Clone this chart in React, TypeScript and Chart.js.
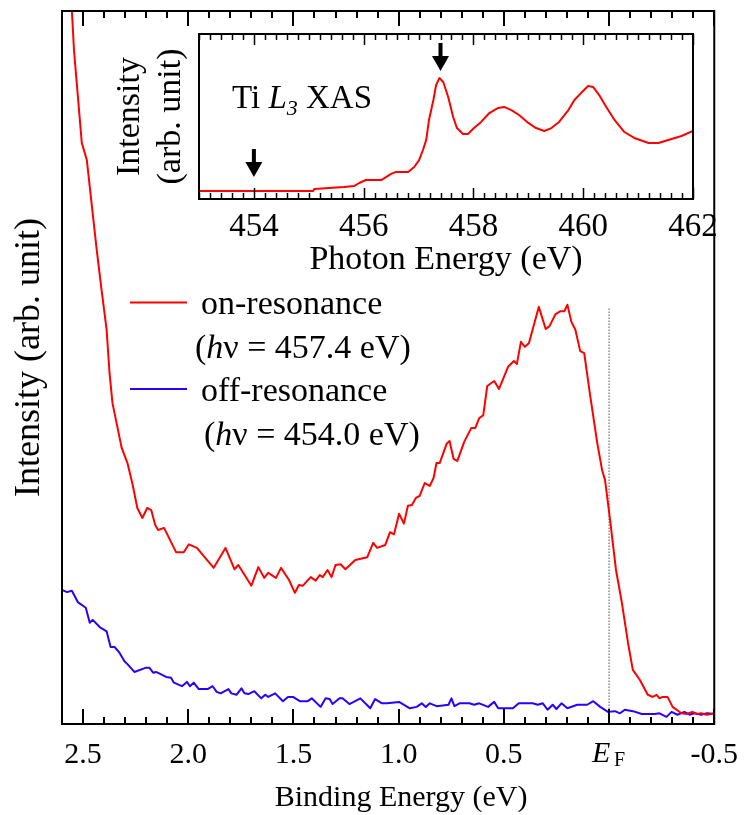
import React, { useEffect, useRef } from 'react';
import { Chart, registerables } from 'chart.js';
Chart.register(...registerables);

const FONT = '"Liberation Serif", "Times New Roman", Times, serif';

// ---- Main panel: photoemission spectra vs binding energy (eV) ----
const onResBE = [2.600, 2.553, 2.543, 2.506, 2.482, 2.435, 2.412, 2.388, 2.374, 2.360,
  2.317, 2.289, 2.266, 2.242, 2.218, 2.195, 2.176, 2.157, 2.143, 2.115,
  2.058, 2.021, 1.997, 1.959, 1.879, 1.823, 1.780, 1.762, 1.700, 1.667,
  1.639, 1.620, 1.583, 1.559, 1.521, 1.493, 1.474, 1.455, 1.418, 1.394,
  1.375, 1.361, 1.338, 1.319, 1.300, 1.276, 1.253, 1.206, 1.149, 1.121,
  1.102, 1.064, 1.041, 1.022, 0.998, 0.975, 0.956, 0.937, 0.918, 0.900,
  0.876, 0.852, 0.834, 0.820, 0.805, 0.772, 0.758, 0.739, 0.721, 0.688,
  0.655, 0.636, 0.617, 0.598, 0.579, 0.546, 0.523, 0.480, 0.452, 0.438,
  0.419, 0.400, 0.381, 0.334, 0.301, 0.283, 0.254, 0.231, 0.212, 0.198,
  0.179, 0.160, 0.137, 0.118, 0.089, 0.056, 0.033, 0.019, -0.005, -0.033,
  -0.061, -0.090, -0.113, -0.146, -0.184, -0.207, -0.226, -0.240, -0.254, -0.278,
  -0.302, -0.344, -0.368, -0.396, -0.419, -0.438, -0.462, -0.485, -0.499];
const onResI = [123, 100, 94.5, 81.5, 79.1, 66.5, 60.9, 55.3, 49.2, 45.0,
  38.8, 36.6, 33.8, 30.3, 28.9, 30.3, 30.0, 27.9, 27.2, 27.5,
  24.1, 24.1, 25.2, 24.7, 21.9, 24.7, 21.7, 22.3, 19.4, 22.0,
  20.5, 21.2, 20.5, 21.9, 20.2, 18.4, 19.5, 19.4, 20.6, 20.1,
  20.9, 20.6, 21.6, 20.6, 22.3, 22.4, 21.7, 23.0, 23.4, 25.4,
  24.7, 25.1, 26.9, 26.6, 29.5, 28.1, 30.6, 30.7, 31.7, 32.0,
  33.8, 33.4, 34.5, 36.6, 36.6, 39.3, 39.7, 37.2, 36.9, 39.6,
  41.5, 41.5, 42.9, 43.3, 47.4, 48.1, 47.0, 50.1, 50.9, 50.5,
  53.6, 52.9, 53.4, 58.5, 55.4, 55.8, 57.5, 57.9, 57.9, 58.8,
  56.4, 55.3, 52.3, 52.0, 45.9, 39.4, 35.6, 34.2, 28.6, 21.6,
  17.0, 11.4, 7.6, 6.2, 4.1, 3.8, 4.1, 3.6, 3.8, 3.8,
  2.4, 1.5, 1.4, 1.7, 1.4, 1.5, 1.3, 1.4, 1.5];

const offResBE = [2.600, 2.576, 2.553, 2.525, 2.487, 2.468, 2.454, 2.421, 2.388, 2.369,
  2.350, 2.327, 2.303, 2.289, 2.256, 2.200, 2.185, 2.167, 2.153, 2.105,
  2.082, 2.068, 2.030, 2.006, 1.992, 1.974, 1.950, 1.908, 1.884, 1.865,
  1.846, 1.809, 1.795, 1.771, 1.747, 1.733, 1.714, 1.686, 1.653, 1.634,
  1.620, 1.587, 1.550, 1.526, 1.502, 1.470, 1.432, 1.413, 1.371, 1.347,
  1.328, 1.314, 1.281, 1.267, 1.234, 1.182, 1.135, 1.112, 1.079, 1.055,
  0.998, 0.947, 0.914, 0.890, 0.871, 0.852, 0.819, 0.763, 0.749, 0.735,
  0.711, 0.664, 0.641, 0.617, 0.575, 0.546, 0.527, 0.457, 0.429, 0.363,
  0.339, 0.315, 0.292, 0.268, 0.250, 0.226, 0.198, 0.151, 0.104, 0.075,
  0.042, 0.005, -0.028, -0.052, -0.075, -0.113, -0.156, -0.217, -0.240, -0.273,
  -0.297, -0.325, -0.358, -0.382, -0.405, -0.438, -0.466, -0.499];
const offResI = [18.8, 18.5, 18.7, 17.1, 16.3, 14.2, 14.6, 13.6, 13.0, 10.8,
  10.8, 10.0, 8.8, 8.4, 7.3, 7.9, 7.9, 7.2, 7.3, 6.6,
  6.5, 5.8, 5.3, 5.9, 5.3, 5.8, 4.9, 4.9, 5.3, 4.5,
  4.3, 4.9, 4.3, 4.1, 5.0, 4.3, 4.2, 4.6, 3.6, 4.1,
  3.8, 4.3, 3.2, 3.8, 3.8, 3.2, 3.2, 3.6, 2.4, 3.6,
  3.5, 2.8, 3.6, 3.6, 2.8, 3.6, 2.2, 3.5, 2.9, 2.9,
  3.1, 2.2, 2.4, 2.9, 2.4, 2.9, 2.5, 2.7, 3.6, 2.5,
  2.9, 2.9, 2.7, 2.9, 2.4, 3.1, 2.2, 2.2, 2.9, 2.9,
  2.7, 2.9, 2.0, 2.7, 2.1, 2.9, 2.2, 2.7, 2.7, 3.2,
  2.4, 1.7, 1.8, 1.5, 2.0, 1.8, 1.4, 1.4, 1.5, 1.0,
  1.7, 1.3, 1.7, 1.3, 1.5, 1.3, 1.5, 1.4];

// Fermi level marker (dotted vertical line)
const fermiBE = [0, 0];
const fermiI = [0, 58.3];

const mainXMin = -0.5;
const mainXMax = 2.6;
const mainXStep = 0.5;
const mainMinorStep = 0.1;

// ---- Inset: Ti L3 XAS ----
const xasE = [453.0, 455.08, 455.10, 455.64, 455.83, 455.92, 456.04, 456.32, 456.50, 456.59,
  456.81, 456.92, 457.01, 457.08, 457.14, 457.19, 457.27, 457.32, 457.38, 457.45,
  457.54, 457.63, 457.70, 457.81, 457.90, 458.01, 458.14, 458.29, 458.45, 458.56,
  458.69, 458.83, 459.00, 459.14, 459.29, 459.42, 459.56, 459.73, 459.84, 459.96,
  460.09, 460.18, 460.29, 460.42, 460.57, 460.75, 460.93, 461.19, 461.37, 461.55,
  461.79, 462.0];
const xasI = [4.8, 4.8, 6.1, 7.3, 7.9, 9.7, 11.5, 11.5, 15.2, 16.4,
  16.4, 19.4, 23.6, 29.7, 35.8, 47.9, 60.0, 69.1, 73.3, 70.9,
  61.8, 49.7, 43.0, 39.4, 39.4, 43.0, 46.7, 52.1, 55.2, 55.8,
  53.9, 50.9, 46.1, 43.0, 41.2, 43.0, 46.7, 53.9, 60.0, 64.2,
  68.5, 67.9, 63.0, 55.8, 47.9, 40.6, 37.0, 33.9, 33.9, 35.8,
  38.2, 41.2];
const arrowE = [454.0, 457.4];
const arrowTipI = [13.3, 77.6];
const insetXMin = 453;
const insetXMax = 462;
const insetXStep = 2;
const insetMinorStep = 0.2;

const toXY = (xs: number[], ys: number[]) => xs.map((x, i) => ({ x, y: ys[i] }));

function drawRuns(ctx: CanvasRenderingContext2D, x: number, y: number, runs: [string, string, number?][]) {
  let cx = x;
  for (const [text, font, dy] of runs) {
    ctx.font = font;
    ctx.fillText(text, cx, y + (dy || 0));
    cx += ctx.measureText(text).width;
  }
}

const mainDecor = {
  id: 'mainDecor',
  afterDraw(chart: any) {
    const { ctx, chartArea: a, scales } = chart;
    const xs = scales.x;
    ctx.save();
    ctx.strokeStyle = '#000';
    ctx.fillStyle = '#000';
    // ticks (inward, bottom and top)
    ctx.lineWidth = 2;
    const nMinor = Math.round((mainXMax - mainXMin) / mainMinorStep);
    for (let k = 0; k <= nMinor; k++) {
      const v = mainXMin + k * mainMinorStep;
      const major = Math.abs(v / mainXStep - Math.round(v / mainXStep)) < 1e-6;
      const px = Math.round(xs.getPixelForValue(v)) ;
      const len = major ? 15 : 7;
      ctx.beginPath();
      ctx.moveTo(px, a.bottom);
      ctx.lineTo(px, a.bottom - len);
      ctx.moveTo(px, a.top);
      ctx.lineTo(px, a.top + len);
      ctx.stroke();
    }
    // frame
    ctx.lineWidth = 2;
    ctx.strokeRect(a.left, a.top, a.right - a.left, a.bottom - a.top);

    // E_F tick label
    const ef = xs.getPixelForValue(0);
    ctx.textAlign = 'left';
    ctx.textBaseline = 'alphabetic';
    ctx.font = `italic 30px ${FONT}`;
    ctx.fillText('E', ef - 17, 762);
    ctx.font = `20px ${FONT}`;
    ctx.fillText('F', ef + 5, 766);

    // axis titles
    ctx.textAlign = 'center';
    ctx.font = `30px ${FONT}`;
    ctx.fillText('Binding Energy (eV)', (a.left + a.right) / 2 + 13, 806);
    ctx.save();
    ctx.translate(30, (a.top + a.bottom) / 2 - 10);
    ctx.rotate(-Math.PI / 2);
    ctx.textBaseline = 'middle';
    ctx.font = `36px ${FONT}`;
    ctx.fillText('Intensity (arb. unit)', 0, 0);
    ctx.restore();

    // legend
    ctx.lineWidth = 2;
    ctx.strokeStyle = '#ff0000';
    ctx.beginPath(); ctx.moveTo(130, 302.5); ctx.lineTo(187, 302.5); ctx.stroke();
    ctx.strokeStyle = '#2a00ff';
    ctx.beginPath(); ctx.moveTo(130, 389); ctx.lineTo(187, 389); ctx.stroke();
    ctx.textAlign = 'left';
    ctx.textBaseline = 'alphabetic';
    const f = `34px ${FONT}`;
    const fi = `italic 34px ${FONT}`;
    drawRuns(ctx, 201, 314, [['on-resonance', f]]);
    drawRuns(ctx, 195, 358, [['(', f], ['h', fi], ['\u03bd = 457.4 eV)', f]]);
    drawRuns(ctx, 201, 401, [['off-resonance', f]]);
    drawRuns(ctx, 204, 445, [['(', f], ['h', fi], ['\u03bd = 454.0 eV)', f]]);
    ctx.restore();
  },
};

const insetDecor = {
  id: 'insetDecor',
  afterDraw(chart: any) {
    const { ctx, chartArea: a, scales } = chart;
    const xs = scales.x;
    const ys = scales.y;
    ctx.save();
    ctx.strokeStyle = '#000';
    ctx.fillStyle = '#000';
    ctx.lineWidth = 1.5;
    const nMinor = Math.round((insetXMax - insetXMin) / insetMinorStep);
    for (let k = 0; k <= nMinor; k++) {
      const v = insetXMin + k * insetMinorStep;
      const major = Math.abs(v / insetXStep - Math.round(v / insetXStep)) < 1e-6;
      const px = Math.round(xs.getPixelForValue(v)) + 0.5;
      const len = major ? 11 : 6;
      ctx.beginPath();
      ctx.moveTo(px, a.bottom);
      ctx.lineTo(px, a.bottom - len);
      ctx.moveTo(px, a.top);
      ctx.lineTo(px, a.top + len);
      ctx.stroke();
    }
    ctx.lineWidth = 2;
    ctx.strokeRect(a.left, a.top, a.right - a.left, a.bottom - a.top);

    // arrows
    for (let i = 0; i < arrowE.length; i++) {
      const x = xs.getPixelForValue(arrowE[i]);
      const tip = ys.getPixelForValue(arrowTipI[i]);
      ctx.fillRect(x - 2, tip - 28, 4, 14);
      ctx.beginPath();
      ctx.moveTo(x - 8.5, tip - 15);
      ctx.lineTo(x + 8.5, tip - 15);
      ctx.lineTo(x, tip);
      ctx.closePath();
      ctx.fill();
    }

    // label
    ctx.textAlign = 'left';
    ctx.textBaseline = 'alphabetic';
    drawRuns(ctx, 232, 108, [
      ['Ti ', `33px ${FONT}`],
      ['L', `italic 33px ${FONT}`],
      ['3', `italic 22px ${FONT}`, 7],
      [' XAS', `33px ${FONT}`],
    ]);
    ctx.restore();
  },
};

export default function App() {
  const mainRef = useRef<HTMLCanvasElement>(null);
  const insetRef = useRef<HTMLCanvasElement>(null);

  useEffect(() => {
    const main = new Chart(mainRef.current as HTMLCanvasElement, {
      type: 'line',
      data: {
        datasets: [
          { data: toXY(onResBE, onResI), borderColor: '#ff0000', borderWidth: 2, pointRadius: 0, tension: 0, fill: false, borderJoinStyle: 'round' },
          { data: toXY(offResBE, offResI), borderColor: '#2a00ff', borderWidth: 2, pointRadius: 0, tension: 0, fill: false, borderJoinStyle: 'round' },
          { data: toXY(fermiBE, fermiI), borderColor: '#555', borderWidth: 1, borderDash: [1.5, 1.5], pointRadius: 0, fill: false },
        ],
      } as any,
      options: {
        responsive: false,
        animation: false,
        devicePixelRatio: 1,
        layout: { padding: { left: 0, top: 11, right: 31, bottom: 0 } },
        plugins: { legend: { display: false }, tooltip: { enabled: false } },
        scales: {
          x: {
            type: 'linear', min: mainXMin, max: mainXMax, reverse: true,
            grid: { display: false, drawTicks: false }, border: { display: false },
            ticks: {
              stepSize: mainXStep, includeBounds: false, padding: 13, color: '#000', maxRotation: 0, autoSkip: false,
              font: { family: FONT, size: 30 },
              callback: (v: any) => (Math.abs(Number(v)) < 1e-9 ? '' : Number(v).toFixed(1)),
            },
            afterFit: (s: any) => { s.height = 91; },
          },
          y: {
            type: 'linear', min: 0, max: 100,
            grid: { display: false, drawTicks: false }, border: { display: false },
            ticks: { display: false },
            afterFit: (s: any) => { s.width = 62; },
          },
        },
      } as any,
      plugins: [mainDecor],
    });

    const inset = new Chart(insetRef.current as HTMLCanvasElement, {
      type: 'line',
      data: {
        datasets: [
          { data: toXY(xasE, xasI), borderColor: '#ff0000', borderWidth: 2, pointRadius: 0, tension: 0, fill: false, borderJoinStyle: 'round' },
        ],
      } as any,
      options: {
        responsive: false,
        animation: false,
        devicePixelRatio: 1,
        layout: { padding: { left: 0, top: 34, right: 58, bottom: 525 } },
        plugins: { legend: { display: false }, tooltip: { enabled: false } },
        scales: {
          x: {
            type: 'linear', min: insetXMin, max: insetXMax,
            grid: { display: false, drawTicks: false }, border: { display: false },
            ticks: { stepSize: insetXStep, includeBounds: false, padding: 9, color: '#000', maxRotation: 0, autoSkip: false, font: { family: FONT, size: 33 } },
            title: { display: true, text: 'Photon Energy (eV)', color: '#000', font: { family: FONT, size: 34 }, padding: { top: 0, bottom: 9.6 } },
            afterFit: (s: any) => { s.height = 91; },
          },
          y: {
            type: 'linear', min: 0, max: 100,
            grid: { display: false, drawTicks: false }, border: { display: false },
            ticks: { display: false },
            title: { display: true, text: ['Intensity', '(arb. unit)'], color: '#000', font: { family: FONT, size: 34 }, padding: { top: 110, bottom: 0 } },
            afterFit: (s: any) => { s.width = 199; },
          },
        },
      } as any,
      plugins: [insetDecor],
    });

    return () => { main.destroy(); inset.destroy(); };
  }, []);

  return (
    <div style={{ position: 'absolute', left: 0, top: 0, width: 751, height: 815, background: '#fff' }}>
      <canvas ref={mainRef} width={751} height={815} style={{ position: 'absolute', left: 0, top: 0 }} />
      <canvas ref={insetRef} width={751} height={815} style={{ position: 'absolute', left: 0, top: 0, pointerEvents: 'none' }} />
    </div>
  );
}
